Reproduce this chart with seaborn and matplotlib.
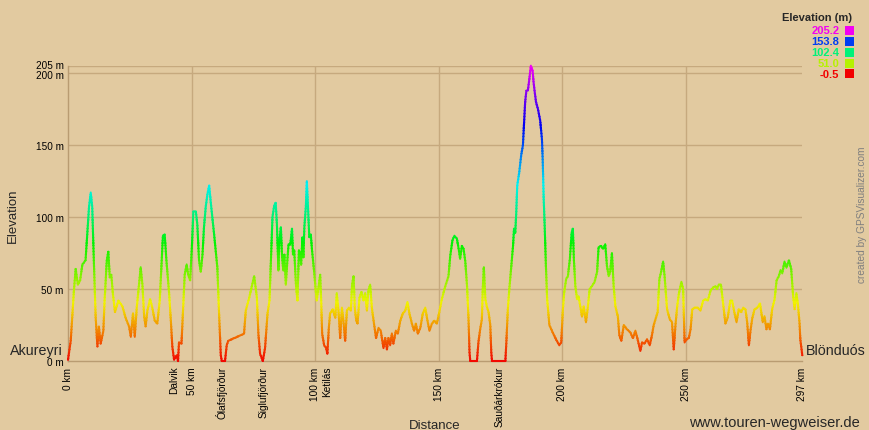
import numpy as np
import matplotlib
matplotlib.use("Agg")
import matplotlib.pyplot as plt
import matplotlib.colors as mcolors
import matplotlib.transforms as mtransforms
from matplotlib.patches import Rectangle
import seaborn as sns
import pandas as pd

# ---------------- data ----------------
km = [0, 1.1, 1.8, 2.4, 3.1, 4.0, 4.9, 5.8, 7.1, 7.8, 8.5, 9.2, 9.8, 10.5, 11.2, 11.9, 12.5, 13.2, 14.3,
      14.8, 15.7, 16.3, 16.9, 17.5, 18.2, 19.0, 20.4, 22.0, 23.3, 24.7, 25.4, 26.3, 27.0, 27.8, 28.7, 29.4,
      30.1, 30.8, 31.4, 32.1, 33.2, 34.1, 35.1, 36.1, 37.1, 37.9, 38.4, 39.1, 39.8, 40.9, 41.6, 42.2, 42.9,
      44.0, 44.5, 44.9, 45.9, 46.4, 47.2, 48.0, 48.6, 49.4, 50.1, 50.7, 51.7, 52.3, 53.0, 53.7, 54.4, 55.0,
      55.7, 56.4, 57.1, 57.7, 59.1, 60.4, 61.1, 61.8, 62.2, 63.5, 64.2, 64.8, 71.2, 71.9, 73.3, 75.3, 76.4,
      77.0, 77.7, 78.8, 79.7, 80.7, 81.5, 82.0, 82.7, 83.4, 84.0, 84.5, 85.1, 85.5, 86.1, 86.6, 87.1, 87.5,
      88.1, 88.8, 89.2, 89.9, 90.6, 91.0, 91.5, 92.2, 92.8, 93.4, 93.9, 94.3, 94.8, 95.2, 95.6, 96.2, 96.6,
      97.2, 97.6, 98.2, 98.7, 99.5, 100.2, 100.6, 101.3, 102.0, 102.4, 102.8, 103.6, 104.4, 104.9, 105.5,
      106.0, 107.1, 108.1, 108.7, 109.4, 110.1, 110.8, 111.4, 112.1, 112.8, 113.6, 114.4, 114.9, 115.5,
      116.0, 116.6, 117.1, 117.9, 118.7, 119.5, 120.2, 120.9, 121.5, 122.2, 122.9, 123.6, 124.6, 125.6,
      126.5, 127.6, 128.3, 129.0, 129.6, 130.3, 131.0, 131.6, 132.6, 133.4, 134.4, 135.4, 136.4, 137.3,
      138.1, 139.1, 140.0, 140.7, 141.5, 142.5, 143.5, 144.5, 145.4, 146.2, 147.2, 148.1, 149.2, 150.3,
      151.2, 152.6, 153.9, 154.6, 155.5, 156.3, 157.3, 158.0, 158.6, 159.3, 160.0, 160.7, 161.4, 162.0,
      162.4, 162.7, 165.4, 166.0, 166.7, 167.4, 167.8, 168.2, 168.8, 169.4, 170.1, 170.8, 171.2, 171.5,
      176.9, 177.3, 177.9, 178.5, 179.3, 180.0, 180.4, 180.9, 181.3, 181.7, 182.5, 183.3, 184.0, 184.4,
      184.9, 185.4, 186.0, 186.6, 187.2, 187.9, 188.3, 188.7, 189.3, 190.1, 191.0, 191.7, 192.0, 192.4,
      192.8, 193.3, 193.8, 194.7, 196.0, 197.4, 198.7, 199.5, 200.1, 200.7, 201.5, 202.2, 203.0, 203.7,
      204.2, 204.6, 205.2, 205.9, 206.5, 207.2, 207.9, 208.6, 209.5, 210.3, 211.0, 211.9, 213.0, 214.0,
      214.6, 215.6, 216.4, 217.3, 218.0, 218.7, 219.3, 220.0, 220.7, 221.4, 222.4, 223.0, 223.8, 224.8,
      226.1, 227.4, 228.5, 229.5, 230.4, 231.5, 232.2, 233.1, 234.2, 235.3, 236.2, 236.9, 237.6, 238.5,
      239.2, 239.9, 240.7, 241.3, 242.3, 243.4, 244.3, 245.0, 245.7, 246.4, 247.1, 248.1, 248.8, 249.4,
      250.2, 251.1, 251.8, 252.5, 253.4, 254.8, 255.8, 256.9, 257.8, 258.8, 259.9, 260.9, 261.9, 262.5,
      263.2, 264.1, 264.9, 265.9, 266.8, 267.9, 268.6, 269.5, 270.4, 271.3, 272.3, 273.1, 274.0, 274.7,
      275.4, 276.1, 276.8, 277.7, 278.8, 279.9, 280.4, 281.0, 281.7, 282.5, 283.1, 283.9, 284.8, 285.8,
      286.6, 287.5, 288.2, 288.9, 289.8, 290.6, 291.6, 292.5, 293.3, 293.9, 294.6, 295.2, 295.9, 296.2, 297.0]
elev = [1, 14, 33, 49, 64, 53, 56, 67, 70, 88, 107, 117, 107, 67, 30, 10, 24, 12, 21,
        42, 70, 76, 58, 60, 46, 34, 42, 38, 30, 24, 17, 33, 17, 37, 53, 65,
        53, 31, 24, 35, 43, 37, 28, 26, 42, 70, 87, 88, 70, 47, 28, 10, 1,
        4, 0, 13, 12, 30, 60, 67, 60, 56, 79, 104, 104, 95, 70, 62, 74, 93,
        107, 116, 122, 111, 88, 65, 33, 4, 0, 0, 11, 14, 19, 35, 44, 59, 44,
        19, 5, 0, 9, 33, 42, 67, 100, 108, 110, 95, 63, 84, 93, 72, 63, 74,
        53, 72, 81, 81, 92, 74, 77, 53, 42, 77, 74, 67, 86, 72, 93, 107, 125,
        102, 86, 88, 77, 63, 49, 42, 51, 60, 42, 19, 11, 9, 5, 23,
        33, 36, 30, 47, 35, 16, 37, 28, 14, 35, 37, 35, 53, 59,
        37, 28, 26, 44, 48, 42, 47, 35, 49, 53, 37, 28, 16, 23,
        21, 9, 16, 8, 16, 11, 19, 12, 21, 19, 28, 33, 35, 41,
        33, 26, 21, 26, 19, 23, 33, 37, 28, 21, 26, 28, 26, 35,
        43, 52, 59, 73, 84, 87, 85, 78, 71, 80, 78, 69, 52, 29,
        6, 0, 0, 13, 22, 29, 52, 65, 43, 38, 34, 25, 6, 0,
        0, 13, 36, 50, 66, 80, 92, 89, 103, 122, 131, 143, 150, 163,
        180, 188, 188, 196, 205.2, 202, 194, 188, 180, 175, 167, 154, 140, 113,
        94, 66, 43, 25, 20, 15, 11, 13, 34, 48, 57, 59, 71, 89,
        92, 71, 52, 43, 45, 38, 31, 38, 27, 38, 50, 52, 55, 62,
        79, 80, 78, 81, 66, 59, 62, 75, 52, 38, 31, 18, 14, 25,
        22, 20, 16, 21, 15, 7, 13, 12, 15, 11, 18, 25, 29, 34,
        57, 62, 69, 59, 36, 29, 27, 8, 25, 38, 47, 55, 50, 13,
        15, 16, 22, 36, 37, 37, 35, 42, 43, 42, 49, 51, 52, 50,
        53, 53, 41, 26, 30, 42, 42, 34, 27, 36, 34, 37, 36, 27,
        11, 22, 30, 36, 37, 40, 34, 27, 31, 22, 26, 22, 36, 43,
        56, 59, 63, 61, 69, 65, 70, 64, 45, 36, 47, 40, 26, 15, 4]

x_ticks = [0, 50, 100, 150, 200, 250, 297]
x_tick_labels = ["0 km", "50 km", "100 km", "150 km", "200 km", "250 km", "297 km"]
y_ticks = [0, 50, 100, 150, 200, 205]
y_tick_labels = ["0 m", "50 m", "100 m", "150 m", "200 m", "205 m"]
waypoint_names = ["Dalvik", "Ólafsfjörður", "Siglufjörður", "Ketilás", "Sauðárkrókur"]
waypoint_km = [43.1, 62.0, 79.0, 105.0, 174.6]
legend_values = [205.2, 153.8, 102.4, 51.0, -0.5]
legend_labels = ["205.2", "153.8", "102.4", "51.0", "-0.5"]
elev_min, elev_max = -0.5, 205.2

# ---------------- style ----------------
BG = "#E2CAA0"
GRID = "#C6A97E"
SPINE = "#B99C72"


def elev_color(v):
    h = (v - elev_min) / (elev_max - elev_min) * 300.0 / 360.0
    h = min(max(h, 0.0), 300.0 / 360.0)
    return mcolors.hsv_to_rgb((h, 1.0, 0.95))


sns.set_theme(style="white")
plt.rcParams["font.family"] = ["Liberation Sans", "DejaVu Sans"]

fig = plt.figure(figsize=(8.69, 4.31), dpi=100, facecolor=BG)
W, H = 869.0, 431.0
ax = fig.add_axes([68 / W, 1 - 362 / H, (802.3 - 68) / W, (362 - 66.8) / H])
ax.set_facecolor(BG)
ax.set_xlim(0, 297)
ax.set_ylim(0, 205.2)

# gridlines
for v in [50, 100, 150, 200, 205]:
    ax.axhline(v, color=GRID, lw=1.0, zorder=1)
for v in [50, 100, 150, 200, 250]:
    ax.axvline(v, color=GRID, lw=1.0, zorder=1)

# elevation profile, coloured by elevation (hue from red to magenta)
df = pd.DataFrame({"km": km, "elev": elev})
band = 2.0
lo = -2.0
while lo < elev_max + 2:
    hi = lo + band
    sns.lineplot(data=df, x="km", y="elev", ax=ax, color=elev_color(lo + band / 2),
                 lw=1.5, estimator=None, sort=False, legend=False, zorder=3)
    line = ax.lines[-1]
    bb = mtransforms.Bbox([[-3, lo - 0.4], [300, hi + 0.4]])
    line.set_clip_box(mtransforms.TransformedBbox(bb, ax.transData))
    lo = hi

# spines
for s in ["top", "right"]:
    ax.spines[s].set_visible(False)
for s in ["left", "bottom"]:
    ax.spines[s].set_color(SPINE)
    ax.spines[s].set_linewidth(1.0)
    ax.spines[s].set_zorder(2)

ax.set_xlabel("")
ax.set_ylabel("")
ax.set_xticks(x_ticks)
ax.set_xticklabels(x_tick_labels, rotation=90, va="top", ha="center", fontsize=7.3)
ax.set_yticks(y_ticks)
ax.set_yticklabels(y_tick_labels, fontsize=7.2)
ax.tick_params(axis="both", length=0, colors="black", pad=3)
ax.tick_params(axis="x", pad=4)

# nudge the two crowded top labels apart (as in the reference)
ylabels = ax.get_yticklabels()
ylabels[-1].set_transform(ylabels[-1].get_transform() +
                          mtransforms.ScaledTranslation(0, 1.6 / 72, fig.dpi_scale_trans))
ylabels[-2].set_transform(ylabels[-2].get_transform() +
                          mtransforms.ScaledTranslation(0, -0.6 / 72, fig.dpi_scale_trans))

# waypoint labels under the axis
for name, k in zip(waypoint_names, waypoint_km):
    ax.annotate(name, xy=(k, 0), xycoords=("data", "axes fraction"), xytext=(0, -3.5),
                textcoords="offset points", rotation=90, ha="center", va="top",
                fontsize=7.3, color="black")

# axis titles and annotations
fig.text(12.5 / W, 1 - 216 / H, "Elevation", rotation=90, ha="center", va="center", fontsize=9.5)
fig.text(434.5 / W, 1 - 429.5 / H, "Distance", ha="center", va="baseline", fontsize=9.5)
fig.text(62.5 / W, 1 - 355 / H, "Akureyri", ha="right", va="baseline", fontsize=10.3)
fig.text(806 / W, 1 - 355 / H, "Blönduós", ha="left", va="baseline", fontsize=10.3)
fig.text(860 / W, 1 - 427 / H, "www.touren-wegweiser.de", ha="right", va="baseline", fontsize=10.5)
fig.text(862 / W, 1 - 215 / H, "created by GPSVisualizer.com", rotation=90, ha="center",
         va="center", fontsize=7.3, color="#7F7F7F")

# colour legend (top right)
fig.text(816.5 / W, 1 - 18.3 / H, "Elevation (m)", ha="center", va="center",
         fontsize=8, fontweight="bold")
row_y = [31.3, 42.2, 53.1, 64.0, 74.9]
for val, lab, ry in zip(legend_values, legend_labels, row_y):
    c = elev_color(val)
    fig.text(839.5 / W, 1 - ry / H, lab, ha="right", va="center", fontsize=8,
             fontweight="bold", color=c)
    fig.patches.append(Rectangle((844.5 / W, 1 - (ry + 4.5) / H), 9 / W, 9 / H,
                                 transform=fig.transFigure, facecolor=c, edgecolor="none"))

fig.savefig("out.png", dpi=100, facecolor=BG)
